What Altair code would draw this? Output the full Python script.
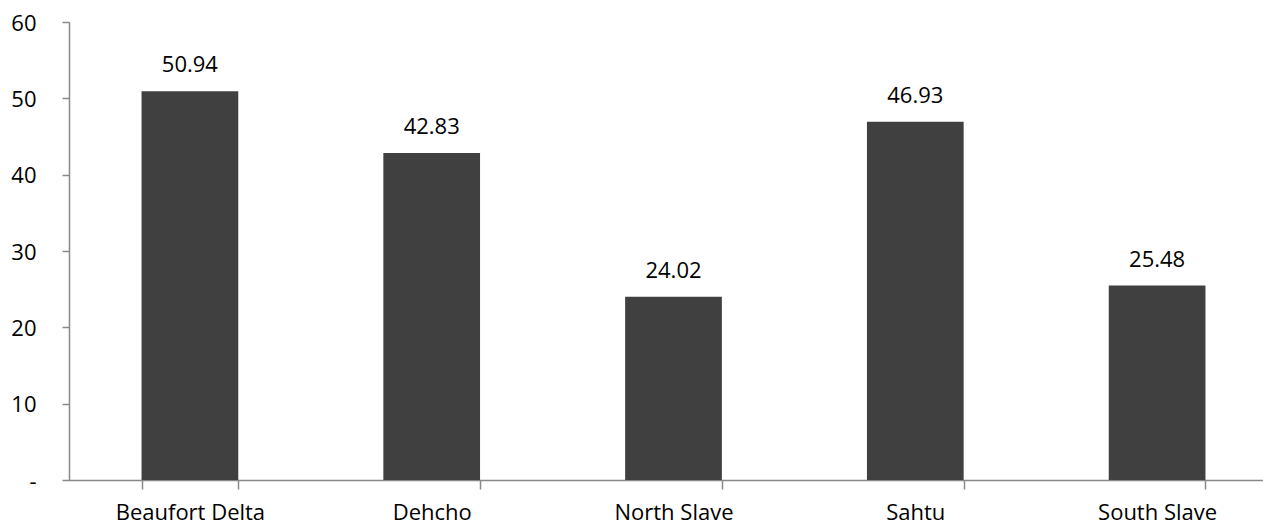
import altair as alt
import pandas as pd

regions = ["Beaufort Delta", "Dehcho", "North Slave", "Sahtu", "South Slave"]
values = [50.94, 42.83, 24.02, 46.93, 25.48]

df = pd.DataFrame({"region": regions, "value": values})

FONT = "Open Sans"
AXIS_COLOR = "#898989"
FS = 22

x = alt.X("region:N", sort=regions, title=None,
          scale=alt.Scale(range=[0, 1209], paddingInner=0.6, paddingOuter=0.3),
          axis=alt.Axis(labelAngle=0, tickBand="extent", domainColor=AXIS_COLOR,
                        tickColor=AXIS_COLOR, tickSize=9, labelPadding=13,
                        labelFont=FONT, labelFontSize=FS, labelColor="#000000",
                        domainWidth=1.5, tickWidth=1.5))

bars = alt.Chart(df).mark_bar(color="#404040").encode(
    x=x,
    y=alt.Y("value:Q", title=None,
            scale=alt.Scale(domain=[0, 60], nice=False),
            axis=alt.Axis(values=[0, 10, 20, 30, 40, 50, 60], grid=False,
                          labelExpr="datum.value == 0 ? '-' : datum.label",
                          domainColor=AXIS_COLOR, tickColor=AXIS_COLOR,
                          tickSize=7, labelPadding=26, labelFont=FONT,
                          labelFontSize=FS, labelColor="#000000", labelOffset=1,
                          domainWidth=1.5, tickWidth=1.5)),
)

labels = alt.Chart(df).mark_text(font=FONT, fontSize=FS, color="#000000",
                                 baseline="alphabetic", dy=-19).encode(
    x=alt.X("region:N", sort=regions),
    y="value:Q",
    text=alt.Text("value:Q", format=".2f"),
)

chart = (bars + labels).properties(
    width=1194, height=458,
    autosize=alt.AutoSizeParams(type="none"),
    padding={"left": 61, "top": 14, "right": 0, "bottom": 44},
).configure_view(stroke=None)

chart.save("out.html", embed_options={"renderer": "svg", "actions": False})
